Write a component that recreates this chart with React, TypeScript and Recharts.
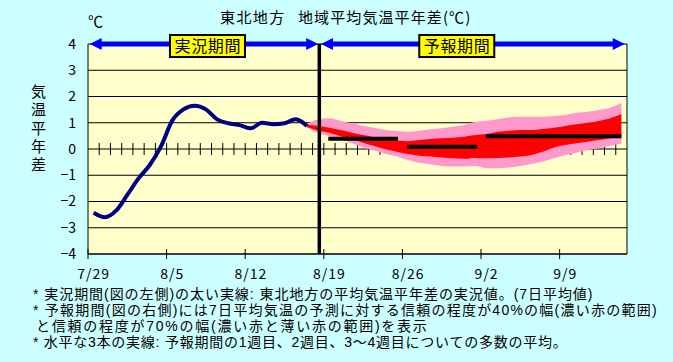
import React from 'react'
import {
  ComposedChart,
  XAxis,
  YAxis,
  CartesianGrid,
  Area,
  Line,
  ReferenceLine,
  ReferenceDot,
} from 'recharts'

const FONT = '"Noto Sans CJK JP", "Noto Sans", sans-serif'
const NOTE_FONT = '"Liberation Sans", "Noto Sans CJK JP", sans-serif'

// axes
const X_TICKS = [0, 7, 14, 21, 28, 35, 42]
const X_LABELS = ['7/29', '8/5', '8/12', '8/19', '8/26', '9/2', '9/9']
const Y_TICKS = [-4, -3, -2, -1, 0, 1, 2, 3, 4]
const Y_MIN = -4
const Y_MAX = 4
const DAY_COUNT = 48
const ZERO_TICKS = Array.from({ length: DAY_COUNT - 1 }, (_, k) => k + 1)

// 実況 (7-day mean anomaly), 7/29 .. 8/17
const OBSERVED = [
  -2.43, -2.6, -2.35, -1.75, -1.12, -0.61, 0.1, 1.08, 1.51, 1.65,
  1.51, 1.13, 0.98, 0.91, 0.79, 1.0, 0.94, 0.98, 1.13, 0.88,
]

// 予報 bands, 8/17 .. 9/14
const FORECAST_FROM = 19
const PINK_LOW = [
  0.82, 0.61, 0.49, 0.37, 0.22, 0.06, -0.06, -0.19, -0.29, -0.42,
  -0.52, -0.58, -0.65, -0.67, -0.67, -0.65, -0.73, -0.73, -0.7, -0.65,
  -0.57, -0.48, -0.35, -0.23, -0.14, -0.04, 0.03, 0.12, 0.2,
]
const PINK_HIGH = [
  0.95, 1.13, 1.17, 1.07, 0.98, 0.88, 0.81, 0.72, 0.69, 0.66,
  0.7, 0.75, 0.79, 0.85, 0.91, 1.04, 1.08, 1.13, 1.21, 1.23,
  1.23, 1.23, 1.26, 1.3, 1.38, 1.42, 1.49, 1.57, 1.76,
]
const RED_LOW = [
  0.84, 0.7, 0.62, 0.49, 0.37, 0.24, 0.11, -0.01, -0.1, -0.19,
  -0.26, -0.29, -0.32, -0.35, -0.37, -0.34, -0.35, -0.34, -0.32, -0.29,
  -0.23, -0.1, 0.06, 0.15, 0.22, 0.28, 0.34, 0.41, 0.49,
]
const RED_HIGH = [
  0.92, 0.88, 0.81, 0.72, 0.62, 0.53, 0.45, 0.37, 0.32, 0.3,
  0.34, 0.38, 0.41, 0.43, 0.47, 0.53, 0.57, 0.66, 0.7, 0.72,
  0.72, 0.76, 0.81, 0.88, 0.94, 1.0, 1.07, 1.17, 1.32,
]

// 1週目, 2週目, 3~4週目
const WEEK_MEANS = [
  { from: 21.4, to: 27.6, value: 0.39 },
  { from: 28.45, to: 34.65, value: 0.09 },
  { from: 35.45, to: 47.5, value: 0.49 },
]

const PERIODS = [
  { label: '実況期間', from: 0.15, to: 20.5, labelAt: 10.64 },
  { label: '予報期間', from: 20.75, to: 47.8, labelAt: 32.84 },
]
const SPLIT_AT = 20.6

const Y_TITLE = ['気', '温', '平', '年', '差']

const NOTES = [
  { text: '* 実況期間(図の左側)の太い実線: 東北地方の平均気温平年差の実況値。(7日平均値)', x: 33, ls: 0.95 },
  { text: '* 予報期間(図の右側)には7日平均気温の予測に対する信頼の程度が40%の幅(濃い赤の範囲)', x: 33, ls: 1.24 },
  { text: 'と信頼の程度が70%の幅(濃い赤と薄い赤の範囲)を表示', x: 36, ls: 1.75 },
  { text: '* 水平な3本の実線: 予報期間の1週目、2週目、3～4週目についての多数の平均。', x: 33, ls: 0.75 },
]

const rows = Array.from({ length: DAY_COUNT }, (_, i) => {
  const f = i - FORECAST_FROM
  return {
    x: i + 0.5,
    observed: i < OBSERVED.length ? OBSERVED[i] : null,
    pink: f >= 0 ? [PINK_LOW[f], PINK_HIGH[f]] : null,
    red: f >= 0 ? [RED_LOW[f], RED_HIGH[f]] : null,
  }
})

const HALF_DAY = 539 / DAY_COUNT / 2

function DateTick(props: any) {
  const { x, y, payload } = props
  const label = X_LABELS[X_TICKS.indexOf(payload.value)]
  return (
    <g>
      <line x1={x} x2={x} y1={y - 5} y2={y + 5} stroke="#000" />
      <text x={x + HALF_DAY} y={y + 25} textAnchor="middle" fontSize={14} fontFamily={FONT} fill="#000" letterSpacing={1}>
        {label}
      </text>
    </g>
  )
}

// horizontal grid line; the zero line gets a cross tick for every day
function GridLine(props: any) {
  const { x1, x2, y1, y2, y, height } = props
  const zeroY = y + (height * Y_MAX) / (Y_MAX - Y_MIN)
  const isZero = typeof y === 'number' && Math.abs(y1 - zeroY) < 1
  return (
    <g>
      <line x1={x1} x2={x2} y1={y1} y2={y2} stroke="#000" />
      {isZero &&
        ZERO_TICKS.map((k) => {
          const tx = x1 + (k * (x2 - x1)) / DAY_COUNT
          return <line key={k} x1={tx} x2={tx} y1={y1 - 6} y2={y1 + 6} stroke="#000" />
        })}
    </g>
  )
}

function PeriodArrow(props: any) {
  const { x1, x2, y1 } = props
  const h = 12
  const w = 6
  return (
    <g>
      <line x1={x1 + 6} x2={x2 - 6} y1={y1} y2={y1} stroke="#0000FF" strokeWidth={5} />
      <polygon points={`${x1},${y1} ${x1 + h},${y1 - w} ${x1 + h},${y1 + w}`} fill="#0000FF" />
      <polygon points={`${x2},${y1} ${x2 - h},${y1 - w} ${x2 - h},${y1 + w}`} fill="#0000FF" />
    </g>
  )
}

function PeriodLabel(props: any, label: string) {
  const { cx, cy } = props
  return (
    <g>
      <rect x={cx - 37.5} y={cy - 9} width={75} height={22} fill="#FFFF00" stroke="#000" strokeWidth={2} />
      <text x={cx} y={cy + 8} textAnchor="middle" fontSize={16} fontFamily={FONT} fill="#000" textLength={66} lengthAdjust="spacing">
        {label}
      </text>
    </g>
  )
}

const fmtY = (v: number) => (v < 0 ? '−' + Math.abs(v) : String(v))

export default function App() {
  return (
    <div style={{ position: 'absolute', left: 0, top: 0, width: 673, height: 362, background: '#CCFFFF', fontFamily: FONT }}>
      <ComposedChart width={673} height={362} data={rows} margin={{ top: 44, right: 46, bottom: 78, left: 48 }}>
        <CartesianGrid horizontal={(p: any) => <GridLine {...p} />} vertical={false} stroke="#000" fill="#FFFFCC" fillOpacity={1} />
        <XAxis
          dataKey="x"
          type="number"
          domain={[0, DAY_COUNT]}
          ticks={X_TICKS}
          interval={0}
          allowDataOverflow
          height={30}
          axisLine={{ stroke: '#000' }}
          tickLine={false}
          tickSize={0}
          tickMargin={0}
          tick={(p: any) => <DateTick {...p} />}
        />
        <YAxis
          type="number"
          domain={[Y_MIN, Y_MAX]}
          ticks={Y_TICKS}
          interval={0}
          width={40}
          axisLine={{ stroke: '#000' }}
          tickLine={false}
          tickSize={6}
          tickMargin={6}
          tickFormatter={fmtY}
          tick={{ fill: '#000', fontSize: 14, fontFamily: FONT }}
        />
        <Area dataKey="pink" type="monotone" fill="#FF99CC" fillOpacity={1} stroke="none" dot={false} activeDot={false} isAnimationActive={false} />
        <Area dataKey="red" type="monotone" fill="#FF0000" fillOpacity={1} stroke="none" dot={false} activeDot={false} isAnimationActive={false} />
        <Line dataKey="observed" type="monotone" stroke="#000080" strokeWidth={4} dot={false} activeDot={false} isAnimationActive={false} />
        {WEEK_MEANS.map((w, i) => (
          <ReferenceLine key={'w' + i} segment={[{ x: w.from, y: w.value }, { x: w.to, y: w.value }]} stroke="#000" strokeWidth={4} />
        ))}
        <ReferenceLine x={DAY_COUNT} stroke="#000" />
        <ReferenceLine x={SPLIT_AT} stroke="#000" strokeWidth={3.5} />
        {PERIODS.map((p, i) => (
          <ReferenceLine
            key={'p' + i}
            segment={[{ x: p.from, y: Y_MAX }, { x: p.to, y: Y_MAX }]}
            ifOverflow="visible"
            shape={(sp: any) => <PeriodArrow {...sp} />}
          />
        ))}
        {PERIODS.map((p, i) => (
          <ReferenceDot
            key={'l' + i}
            x={p.labelAt}
            y={Y_MAX}
            ifOverflow="visible"
            shape={(sp: any) => PeriodLabel(sp, p.label)}
          />
        ))}
      </ComposedChart>
      <svg width={673} height={362} style={{ position: 'absolute', left: 0, top: 0, pointerEvents: 'none' }}>
        <text x={220} y={23} fontSize={15} fontFamily={FONT} fill="#000" letterSpacing={1.4}>東北地方</text>
        <text x={298} y={23} fontSize={15} fontFamily={FONT} fill="#000" letterSpacing={1.1}>地域平均気温平年差(℃)</text>
        <text x={88} y={27} fontSize={15} fontFamily={FONT} fill="#000">℃</text>
      </svg>
      <div style={{ position: 'absolute', left: 28.5, top: 83, width: 20, fontSize: 15, lineHeight: '18.25px', textAlign: 'center', color: '#000', fontFamily: NOTE_FONT }}>
        {Y_TITLE.map((c) => (
          <div key={c} style={{ height: 18.25 }}>
            {c}
          </div>
        ))}
      </div>
      <div style={{ position: 'absolute', left: 0, top: 285.5, width: 673, fontSize: 14, lineHeight: '16.2px', color: '#000', fontFamily: NOTE_FONT }}>
        {NOTES.map((n, i) => (
          <div key={i} style={{ paddingLeft: n.x, height: 16.2, whiteSpace: 'nowrap', letterSpacing: n.ls }}>
            {n.text}
          </div>
        ))}
      </div>
    </div>
  )
}
